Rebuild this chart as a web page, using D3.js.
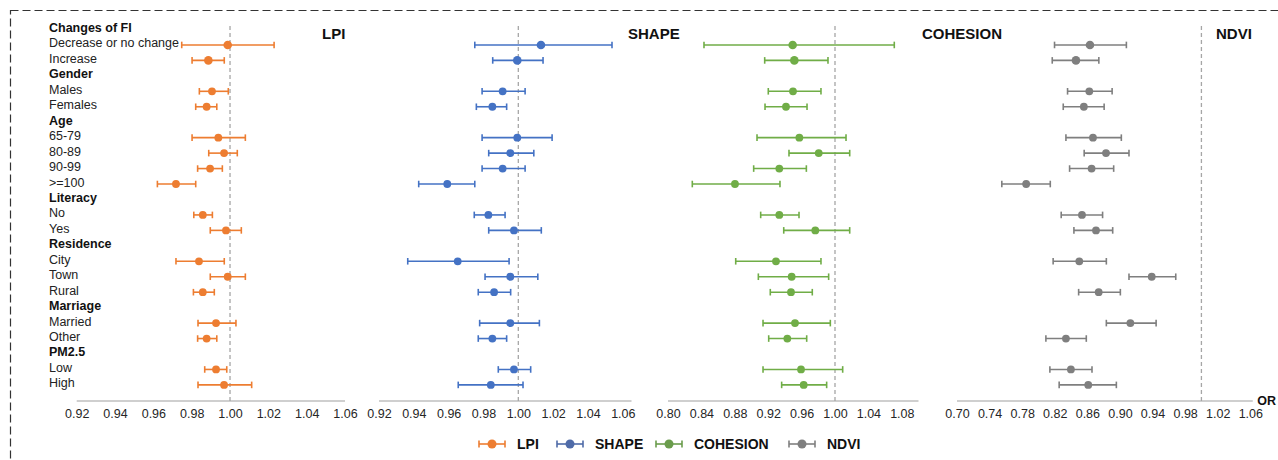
<!DOCTYPE html>
<html><head><meta charset="utf-8">
<script src="https://cdn.jsdelivr.net/npm/d3@7"></script>
<style>
html,body{margin:0;padding:0;background:#fff;}
svg{display:block;font-family:"Liberation Sans",Arial,sans-serif;}
</style></head>
<body>
<svg id="chart" width="1278" height="460"></svg>
<script>
// Row labels (header rows have header=true)
const rows = [
  {label:"Changes of FI", header:true},
  {label:"Decrease or no change"},
  {label:"Increase"},
  {label:"Gender", header:true},
  {label:"Males"},
  {label:"Females"},
  {label:"Age", header:true},
  {label:"65-79"},
  {label:"80-89"},
  {label:"90-99"},
  {label:">=100"},
  {label:"Literacy", header:true},
  {label:"No"},
  {label:"Yes"},
  {label:"Residence", header:true},
  {label:"City"},
  {label:"Town"},
  {label:"Rural"},
  {label:"Marriage", header:true},
  {label:"Married"},
  {label:"Other"},
  {label:"PM2.5", header:true},
  {label:"Low"},
  {label:"High"}
];
const dataRows = ["Decrease or no change","Increase","Males","Females","65-79","80-89","90-99",">=100",
  "No","Yes","City","Town","Rural","Married","Other","Low","High"];

// [OR, lower CI, upper CI] per data row
const lpi = [
  [0.9988,0.9748,1.0230],[0.9887,0.9802,0.9970],[0.9906,0.9840,0.9991],[0.9878,0.9821,0.9931],
  [0.9939,0.9802,1.0080],[0.9969,0.9889,1.0038],[0.9896,0.9831,0.9960],[0.9718,0.9621,0.9821],
  [0.9858,0.9811,0.9908],[0.9979,0.9897,1.0059],[0.9838,0.9718,0.9970],[0.9988,0.9897,1.0080],
  [0.9858,0.9809,0.9918],[0.9927,0.9833,1.0031],[0.9878,0.9831,0.9931],[0.9927,0.9868,0.9983],
  [0.9969,0.9833,1.0113]
];
const shape = [
  [1.0130,0.9750,1.0538],[0.9994,0.9853,1.0142],[0.9910,0.9792,1.0039],[0.9851,0.9759,0.9933],
  [0.9994,0.9792,1.0194],[0.9954,0.9830,1.0089],[0.9910,0.9792,1.0039],[0.9592,0.9428,0.9750],
  [0.9828,0.9747,0.9924],[0.9975,0.9830,1.0132],[0.9652,0.9365,0.9947],[0.9954,0.9809,1.0112],
  [0.9861,0.9770,0.9956],[0.9954,0.9778,1.0121],[0.9851,0.9770,0.9933],[0.9975,0.9885,1.0071],
  [0.9842,0.9655,1.0027]
];
const cohesion = [
  [0.9493,0.8431,1.0710],[0.9513,0.9158,0.9916],[0.9497,0.9201,0.9832],[0.9413,0.9162,0.9665],
  [0.9573,0.9066,1.0132],[0.9805,0.9449,1.0176],[0.9333,0.9026,0.9657],[0.8802,0.8291,0.9341],
  [0.9333,0.9110,0.9569],[0.9764,0.9386,1.0176],[0.9293,0.8811,0.9832],[0.9481,0.9082,0.9924],
  [0.9473,0.9225,0.9728],[0.9521,0.9138,0.9944],[0.9429,0.9206,0.9661],[0.9593,0.9138,1.0092],
  [0.9625,0.9361,0.9900]
];
const ndvi = [
  [0.8632,0.8197,0.9079],[0.8460,0.8169,0.8741],[0.8624,0.8357,0.8904],[0.8557,0.8304,0.8806],
  [0.8669,0.8337,0.9017],[0.8829,0.8561,0.9111],[0.8652,0.8382,0.8923],[0.7849,0.7550,0.8145],
  [0.8534,0.8279,0.8787],[0.8706,0.8435,0.8911],[0.8501,0.8180,0.8833],[0.9390,0.9111,0.9685],
  [0.8739,0.8493,0.9005],[0.9128,0.8833,0.9444],[0.8337,0.8091,0.8587],[0.8398,0.8140,0.8657],
  [0.8611,0.8254,0.8956]
];

const seriesNames = ["LPI","SHAPE","COHESION","NDVI"];
const seriesData = [lpi, shape, cohesion, ndvi];
const seriesColors = ["#ED7D31","#4472C4","#70AD47","#7F7F7F"];
const legendColors = ["#ED7D31","#4F6BA8","#6A9C4C","#7F7F7F"];
const tickValues = [
  [0.92,0.94,0.96,0.98,1.00,1.02,1.04,1.06],
  [0.92,0.94,0.96,0.98,1.00,1.02,1.04,1.06],
  [0.80,0.84,0.88,0.92,0.96,1.00,1.04,1.08],
  [0.70,0.74,0.78,0.82,0.86,0.90,0.94,0.98,1.02,1.06]
];
const domains = [[0.92,1.06],[0.92,1.06],[0.80,1.10],[0.70,1.06]];
const axisEnds = [1.06, 1.065, 1.10, 1.063];
const refValue = 1.00;

// layout
const ranges = [[76.7,345],[379,622.8],[668,918.5],[957,1250.3]];
const titleX = [322,628,922,1216];
const axisY = 401;

const svg = d3.select("#chart");

// dashed border
svg.append("rect").attr("x",10.5).attr("y",10.5).attr("width",1400).attr("height",600)
  .attr("fill","none").attr("stroke","#333").attr("stroke-width",1.2).attr("stroke-dasharray","8,4");

const y = d3.scaleLinear().domain([0,23]).range([29.5,384.9]);

// row labels
svg.append("g").selectAll("text").data(rows).join("text")
  .attr("x",49).attr("y",(d,i)=>y(i)-1.5)
  .attr("dominant-baseline","central")
  .attr("font-size",12.5)
  .attr("font-weight",d=>d.header?"bold":"normal")
  .attr("fill",d=>d.header?"#111":"#222")
  .text(d=>d.label);

const dataRowIndex = dataRows.map(l=>rows.findIndex(r=>r.label===l));

seriesNames.forEach((name,si)=>{
  const x = d3.scaleLinear().domain(domains[si]).range(ranges[si]);
  const g = svg.append("g");
  // axis line
  g.append("line").attr("x1",x(domains[si][0])).attr("x2",x(axisEnds[si]))
    .attr("y1",axisY).attr("y2",axisY).attr("stroke","#BFBFBF").attr("stroke-width",1.5);
  // ticks
  const ax = d3.axisBottom(x).tickValues(tickValues[si]).tickSize(0).tickPadding(8.5)
    .tickFormat(d3.format(".2f"));
  const ag = g.append("g").attr("transform",`translate(0,${axisY})`).call(ax);
  ag.select(".domain").remove();
  ag.selectAll("text").attr("font-size",12.5).attr("fill","#262626")
    .attr("font-family",'"Liberation Sans",Arial,sans-serif');
  // reference line
  g.append("line").attr("x1",x(refValue)).attr("x2",x(refValue))
    .attr("y1",26).attr("y2",axisY).attr("stroke","#A6A6A6").attr("stroke-width",1.3)
    .attr("stroke-dasharray","4,3");
  // title
  g.append("text").attr("x",titleX[si]).attr("y",33).attr("dominant-baseline","central")
    .attr("font-size",15).attr("font-weight","bold").attr("fill","#111").text(name);
  // error bars
  const col = seriesColors[si];
  const pts = seriesData[si].map((d,k)=>({or:d[0],lo:d[1],hi:d[2],yy:y(dataRowIndex[k]),k}));
  const eb = g.append("g").selectAll("g").data(pts).join("g");
  eb.append("line").attr("x1",d=>x(d.lo)).attr("x2",d=>x(d.hi)).attr("y1",d=>d.yy).attr("y2",d=>d.yy)
    .attr("stroke",col).attr("stroke-width",1.6);
  eb.append("line").attr("x1",d=>x(d.lo)).attr("x2",d=>x(d.lo)).attr("y1",d=>d.yy-3.3).attr("y2",d=>d.yy+3.3)
    .attr("stroke",col).attr("stroke-width",1.6);
  eb.append("line").attr("x1",d=>x(d.hi)).attr("x2",d=>x(d.hi)).attr("y1",d=>d.yy-3.3).attr("y2",d=>d.yy+3.3)
    .attr("stroke",col).attr("stroke-width",1.6);
  eb.append("circle").attr("cx",d=>x(d.or)).attr("cy",d=>d.yy).attr("r",d=>d.k<2?4.3:3.9)
    .attr("fill",col);
});

// OR label
svg.append("text").attr("x",1276).attr("y",401).attr("dominant-baseline","central")
  .attr("text-anchor","end")
  .attr("font-size",12.5).attr("font-weight","bold").attr("fill","#111").text("OR");

// legend
const legendX = [479,557,656,789];
const lg = svg.append("g");
seriesNames.forEach((name,i)=>{
  const x0 = legendX[i], yy = 444, c = legendColors[i];
  lg.append("line").attr("x1",x0).attr("x2",x0+26).attr("y1",yy).attr("y2",yy).attr("stroke",c).attr("stroke-width",1.6);
  lg.append("line").attr("x1",x0).attr("x2",x0).attr("y1",yy-3.5).attr("y2",yy+3.5).attr("stroke",c).attr("stroke-width",1.6);
  lg.append("line").attr("x1",x0+26).attr("x2",x0+26).attr("y1",yy-3.5).attr("y2",yy+3.5).attr("stroke",c).attr("stroke-width",1.6);
  lg.append("circle").attr("cx",x0+13).attr("cy",yy).attr("r",4.5).attr("fill",c);
  lg.append("text").attr("x",x0+38).attr("y",yy).attr("dominant-baseline","central")
    .attr("font-size",14).attr("font-weight","bold").attr("fill","#111").text(name);
});
</script>
</body></html>
